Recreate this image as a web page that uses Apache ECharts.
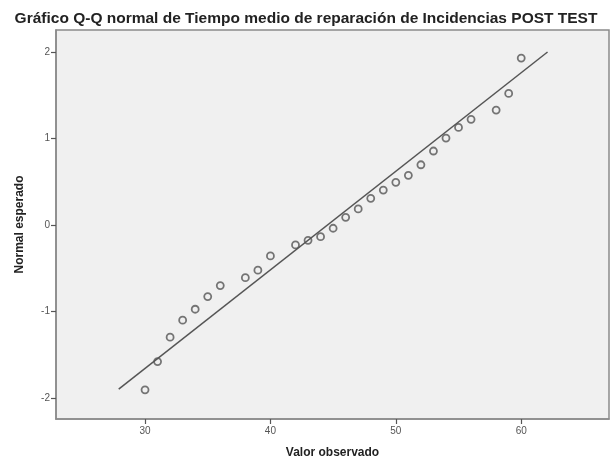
<!DOCTYPE html>
<html>
<head>
<meta charset="utf-8">
<script src="https://cdn.jsdelivr.net/npm/echarts@6/dist/echarts.min.js"></script>
<style>html,body{margin:0;padding:0;background:#fff}#c{width:612px;height:460px}</style>
</head>
<body>
<div id="c"></div>
<script>
const titleText = "Gráfico Q-Q normal de Tiempo medio de reparación de Incidencias POST TEST";
const xName = "Valor observado";
const yName = "Normal esperado";
const observed = [30,31,32,33,34,35,36,38,39,40,42,43,44,45,46,47,48,49,50,51,52,53,54,55,56,58,59,60];
const expected = [-1.906,-1.579,-1.297,-1.101,-0.974,-0.828,-0.701,-0.609,-0.523,-0.358,-0.231,-0.177,-0.135,-0.038,0.089,0.185,0.308,0.404,0.493,0.574,0.696,0.855,1.005,1.128,1.221,1.328,1.521,1.929];
const lineX = [27.9, 62.1];
const lineY = [-1.898, 2.0];
const xTicks = [30,40,50,60];
const yTicks = [-2,-1,0,1,2];

const chart = echarts.init(document.getElementById('c'), null, {renderer:'canvas'});
const pts = observed.map((v,i)=>[v, expected[i]]);
chart.setOption({
  animation:false,
  backgroundColor:'#fff',
  title:{text:titleText,left:'center',top:6,textStyle:{fontFamily:'Liberation Sans',fontWeight:'bold',fontSize:15.5,color:'#222'}},
  grid:{left:56,top:30,right:3,bottom:41,containLabel:false,outerBoundsMode:'none',show:true,backgroundColor:'#f0f0f0',borderColor:'#8a8a8a',borderWidth:1.5},
  xAxis:{type:'value',min:22.9,max:67.0,name:xName,nameLocation:'middle',nameGap:28,
    nameTextStyle:{fontFamily:'Liberation Sans',fontWeight:'bold',fontSize:12,color:'#222'},
    axisLine:{show:true,onZero:false,lineStyle:{color:'#8a8a8a',width:1.5}},splitLine:{show:false},
    axisTick:{show:true,inside:false,length:5,customValues:xTicks,lineStyle:{color:'#555',width:1.2}},
    axisLabel:{customValues:xTicks,fontFamily:'Liberation Sans',fontSize:10,color:'#555',margin:7}},
  yAxis:{type:'value',min:-2.243,max:2.254,name:yName,nameLocation:'middle',nameGap:30,
    nameTextStyle:{fontFamily:'Liberation Sans',fontWeight:'bold',fontSize:12,color:'#222'},
    axisLine:{show:true,onZero:false,lineStyle:{color:'#8a8a8a',width:1.5}},splitLine:{show:false},
    axisTick:{show:true,inside:false,length:5,customValues:yTicks,lineStyle:{color:'#555',width:1.2}},
    axisLabel:{customValues:yTicks,fontFamily:'Liberation Sans',fontSize:10,color:'#555',margin:6}},
  series:[
    {type:'line',data:lineX.map((v,i)=>[v,lineY[i]]),showSymbol:false,symbol:'none',lineStyle:{color:'#555',width:1.5},silent:true,z:2},
    {type:'scatter',data:pts,symbol:'circle',symbolSize:7,itemStyle:{color:'rgba(0,0,0,0)',borderColor:'#555',borderWidth:1.8},z:3}
  ]
});
</script>
</body>
</html>
